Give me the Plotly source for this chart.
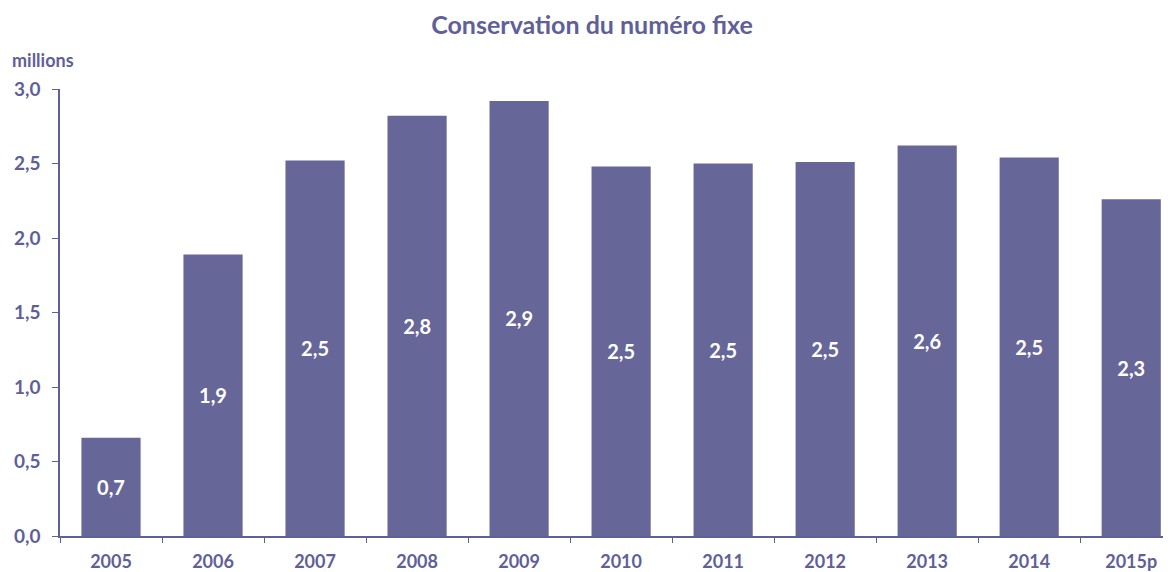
import plotly.graph_objects as go

years = ["2005", "2006", "2007", "2008", "2009", "2010", "2011", "2012", "2013", "2014", "2015p"]
values = [0.66, 1.89, 2.52, 2.82, 2.92, 2.48, 2.50, 2.51, 2.62, 2.54, 2.26]
labels = [f"<b>{v:.1f}</b>".replace(".", ",") for v in values]

bar_color = "#666699"
text_color = "#5f5f99"
font_family = "Lato, 'Open Sans', sans-serif"

fig = go.Figure(go.Bar(
    x=years, y=values, text=labels,
    textposition="inside", insidetextanchor="middle",
    textfont=dict(color="white", size=20, family=font_family),
    marker=dict(color=bar_color, line=dict(width=0)),
    width=0.58, textangle=0, cliponaxis=False,
))

fig.update_layout(
    width=1163, height=564,
    margin=dict(l=52, r=0, t=81, b=36, autoexpand=False),
    paper_bgcolor="white", plot_bgcolor="white",
    separators=", ",
    showlegend=False,
    font=dict(family=font_family, color=text_color),
    title=dict(text="<b>Conservation du numéro fixe</b>", x=(592 - 60) / 1111, xref="paper", xanchor="center",
               y=1 - 17/564, yanchor="middle", font=dict(size=25, color=text_color)),
    annotations=[dict(text="<b>millions</b>", xref="paper", yref="paper", x=(10 - 60) / 1111,
                      xanchor="left", y=1 + 29/447, yanchor="middle", showarrow=False,
                      font=dict(size=18, color=text_color))],
)

fig.update_xaxes(
    type="category", range=[-0.5, 10.39], automargin=False,
    showline=True, linecolor=text_color, linewidth=1.5,
    ticks="outside", tickson="boundaries", ticklen=5, tickcolor=text_color,
    tickfont=dict(size=18, color=text_color, family=font_family),
    tickprefix="<b>", ticksuffix="</b>", showgrid=False,
    ticklabelstandoff=9,
)
fig.update_yaxes(
    range=[0, 3.0], dtick=0.5, tickformat=".1f", automargin=False,
    showline=True, linecolor=text_color, linewidth=1.5,
    ticks="outside", ticklen=6, tickcolor=text_color,
    tickfont=dict(size=19, color=text_color, family=font_family),
    tickprefix="<b>", ticksuffix="</b>", showgrid=False, zeroline=False,
    ticklabelstandoff=8,
)

fig.write_html("out.html")
